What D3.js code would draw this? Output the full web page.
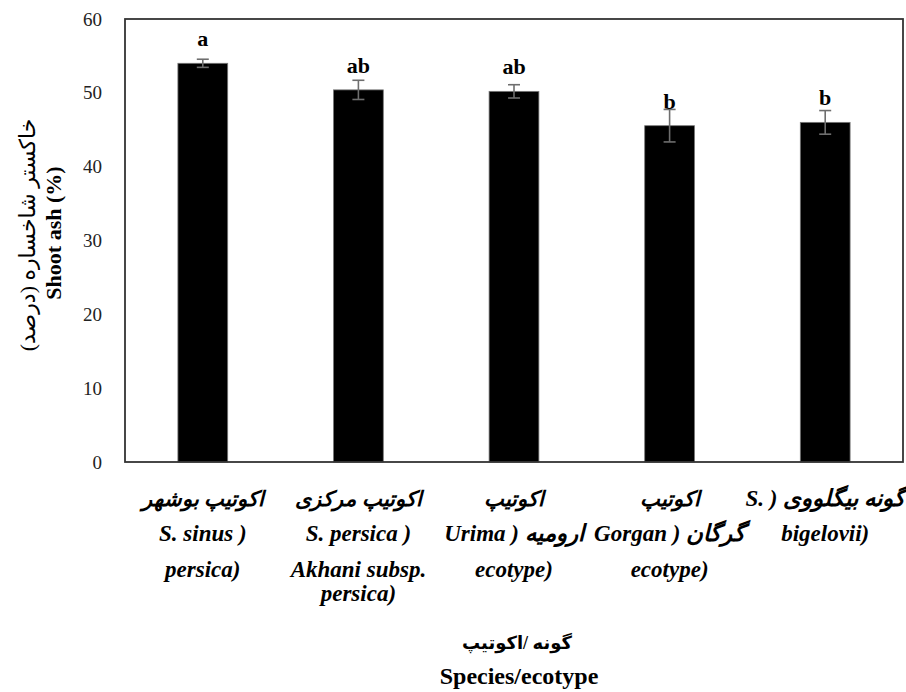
<!DOCTYPE html>
<html>
<head>
<meta charset="utf-8">
<script src="https://cdn.jsdelivr.net/npm/d3@7"></script>
<style>
body { margin: 0; background: #fff; }
text { font-family: "Liberation Serif", "Times New Roman", "DejaVu Sans", serif; }
</style>
</head>
<body>
<div class="chart"></div>
<script>
var groups = ["bushehr", "markazi", "urmia", "gorgan", "bigelovii"];
var ash = [54.0, 50.4, 50.2, 45.55, 46.0];
var stdErr = [0.55, 1.3, 0.9, 2.2, 1.6];
var letters = ["a", "ab", "ab", "b", "b"];
// visual lines for each tick label
var tickLines = [
    ["اکوتیپ بوشهر", "S. sinus )", "persica)"],
    ["اکوتیپ مرکزی", "S. persica )", "Akhani subsp.", "persica)"],
    ["اکوتیپ", "Urima ) ارومیه", "ecotype)"],
    ["اکوتیپ", "Gorgan ) گرگان", "ecotype)"],
    ["S. ) گونه بیگلووی", "bigelovii)"]
];
var yTicks = [0, 10, 20, 30, 40, 50, 60];

var width = 906, height = 692;
var plotLeft = 125, plotRight = 903, plotTop = 19, plotBottom = 462;
var serif = "'Liberation Serif', 'Times New Roman', 'DejaVu Sans', serif";

var svg = d3.select(".chart").append("svg")
    .attr("width", width)
    .attr("height", height);

var x = d3.scaleBand()
    .domain(groups)
    .range([plotLeft, plotRight])
    .paddingInner(0.68)
    .paddingOuter(0.34);

var y = d3.scaleLinear()
    .domain([0, 60])
    .range([plotBottom, plotTop]);

var data = groups.map(function(g, i) {
    return { key: g, value: ash[i], se: stdErr[i], letter: letters[i], lines: tickLines[i] };
});

// bars
svg.selectAll(".bar")
    .data(data)
    .enter().append("rect")
    .attr("class", "bar")
    .attr("x", function(d) { return x(d.key); })
    .attr("y", function(d) { return y(d.value); })
    .attr("width", x.bandwidth())
    .attr("height", function(d) { return y(0) - y(d.value); })
    .attr("fill", "#000")
    .attr("stroke", "#777")
    .attr("stroke-width", 0.8);

// error bars
var cx = function(d) { return x(d.key) + x.bandwidth() / 2; };
var err = svg.selectAll(".err")
    .data(data)
    .enter().append("g")
    .attr("class", "err")
    .attr("stroke", "#6e6e6e")
    .attr("stroke-width", 1.6);
err.append("line")
    .attr("x1", cx).attr("x2", cx)
    .attr("y1", function(d) { return y(d.value + d.se); })
    .attr("y2", function(d) { return y(d.value - d.se); });
err.append("line")
    .attr("x1", function(d) { return cx(d) - 6; })
    .attr("x2", function(d) { return cx(d) + 6; })
    .attr("y1", function(d) { return y(d.value + d.se); })
    .attr("y2", function(d) { return y(d.value + d.se); });
err.append("line")
    .attr("x1", function(d) { return cx(d) - 6; })
    .attr("x2", function(d) { return cx(d) + 6; })
    .attr("y1", function(d) { return y(d.value - d.se); })
    .attr("y2", function(d) { return y(d.value - d.se); });

// significance letters
svg.selectAll(".letter")
    .data(data)
    .enter().append("text")
    .attr("class", "letter")
    .attr("x", cx)
    .attr("y", function(d) { return y(d.value) - 17; })
    .attr("text-anchor", "middle")
    .style("font-family", serif)
    .style("font-size", "22px")
    .style("font-weight", "bold")
    .text(function(d) { return d.letter; });

// frame
svg.append("rect")
    .attr("x", plotLeft)
    .attr("y", plotTop)
    .attr("width", plotRight - plotLeft)
    .attr("height", plotBottom - plotTop)
    .attr("fill", "none")
    .attr("stroke", "#333")
    .attr("stroke-width", 1.8);

// y axis (labels only)
var yAxis = d3.axisLeft(y).tickValues(yTicks).tickSize(0).tickPadding(23);
svg.append("g")
    .attr("class", "y axis")
    .attr("transform", "translate(" + plotLeft + ",0)")
    .call(yAxis)
    .call(function(g) {
        g.select(".domain").remove();
        g.selectAll("text")
            .style("font-family", serif)
            .style("font-size", "19px")
            .attr("fill", "#222");
    });

// x tick labels
var lineY = [506, 541, 577, 601];
var labels = svg.selectAll(".xlabel")
    .data(data)
    .enter().append("g")
    .attr("class", "xlabel")
    .attr("transform", function(d) { return "translate(" + cx(d) + ",0)"; });
labels.selectAll("text")
    .data(function(d) { return d.lines; })
    .enter().append("text")
    .attr("x", 0)
    .attr("y", function(d, i) { return lineY[i]; })
    .attr("text-anchor", "middle")
    .style("font-family", serif)
    .style("font-size", function(d) { return /[a-z]/i.test(d) ? "23px" : "21px"; })
    .style("font-weight", "bold")
    .style("font-style", "italic")
    .text(function(d) { return d; });

// x axis title
svg.append("text")
    .attr("x", 517)
    .attr("y", 649)
    .attr("text-anchor", "middle")
    .style("font-family", serif)
    .style("font-size", "18px")
    .style("font-weight", "bold")
    .text("گونه /اکوتیپ");
svg.append("text")
    .attr("x", 519)
    .attr("y", 684)
    .attr("text-anchor", "middle")
    .style("font-family", serif)
    .style("font-size", "24px")
    .style("font-weight", "bold")
    .text("Species/ecotype");

// y axis title
svg.append("text")
    .attr("transform", "translate(35,235) rotate(-90)")
    .attr("text-anchor", "middle")
    .style("font-family", serif)
    .style("font-size", "22px")
    .text("خاکستر شاخساره (درصد)");
svg.append("text")
    .attr("transform", "translate(61,233) rotate(-90)")
    .attr("text-anchor", "middle")
    .style("font-family", serif)
    .style("font-size", "22px")
    .style("font-weight", "bold")
    .text("Shoot ash (%)");
</script>
</body>
</html>
